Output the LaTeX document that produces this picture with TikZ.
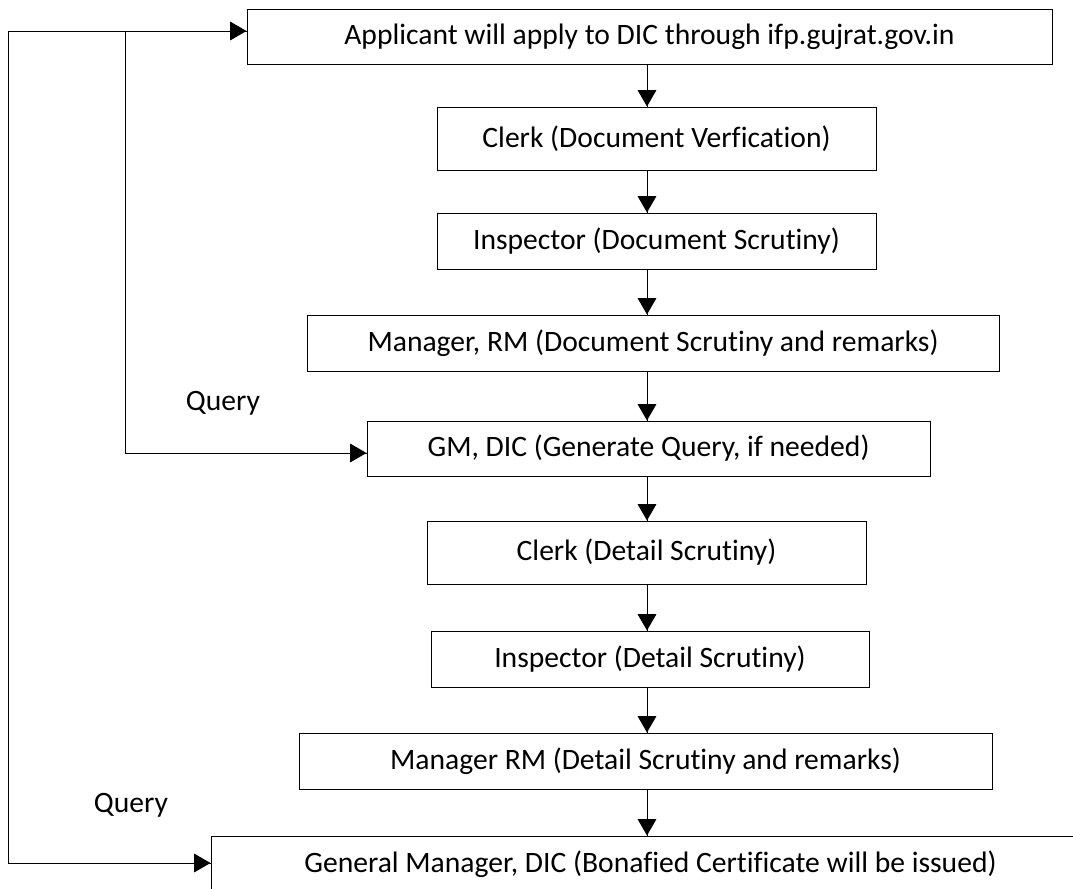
\documentclass[tikz,border=0pt]{standalone}
\usepackage{fontspec}
\setmainfont{Carlito}[Ligatures={NoCommon,NoContextual}]
\usepackage{tikz}
\usetikzlibrary{arrows}
\usetikzlibrary{decorations.markings}
\tikzset{flow/.style = {decoration={markings,
                                    mark=at position 1 with {\arrow[scale=1.45]{triangle 60}}},
                        postaction={decorate}}}
\tikzset{stepbox/.style = {draw, line width=0.5pt, inner sep=0pt, align=center,
                           font=\fontsize{14.8}{17}\selectfont}}

\begin{document}
\begin{tikzpicture}[x=0.5pt, y=-0.5pt, line width=0.5pt]
    \useasboundingbox (0, 0) rectangle (1073, 889);
    \clip (0, 0) rectangle (1073, 889);

    \node [stepbox, minimum width=402.5pt, minimum height=27.5pt] (apply) at (649.5, 36.5) {Applicant will apply to DIC through ifp.gujrat.gov.in};
    \node [stepbox, minimum width=219.5pt, minimum height=31.5pt] (clerkdoc) at (656.5, 138.5) {Clerk (Document Verfication)};
    \node [stepbox, minimum width=219.5pt, minimum height=28pt] (inspdoc) at (656.5, 241) {Inspector (Document Scrutiny)};
    \node [stepbox, minimum width=346pt, minimum height=28pt] (mgrdoc) at (653, 343) {Manager, RM (Document Scrutiny and remarks)};
    \node [stepbox, minimum width=281.5pt, minimum height=27.5pt] (gmquery) at (648.5, 448.5) {GM, DIC (Generate Query, if needed)};
    \node [stepbox, minimum width=219.5pt, minimum height=31.5pt] (clerkdet) at (646.5, 552.5) {Clerk (Detail Scrutiny)};
    \node [stepbox, minimum width=219pt, minimum height=28pt] (inspdet) at (650, 659) {Inspector (Detail Scrutiny)};
    \node [stepbox, minimum width=346.5pt, minimum height=28pt] (mgrdet) at (645.5, 761) {Manager RM (Detail Scrutiny and remarks)};
    \node [stepbox, minimum width=439.5pt, minimum height=28pt] (gmcert) at (650.5, 864) {General Manager, DIC (Bonafied Certificate will be issued)};

    \node [anchor=base, font=\fontsize{14.8}{17}\selectfont] (query1) at (223, 410) {Query};
    \node [anchor=base, font=\fontsize{14.8}{17}\selectfont] (query2) at (131, 812) {Query};

    \coordinate (col) at (647, 0);
    \draw [flow] (apply.south -| col) -- (clerkdoc.north -| col);
    \draw [flow] (clerkdoc.south -| col) -- (inspdoc.north -| col);
    \draw [flow] (inspdoc.south -| col) -- (mgrdoc.north -| col);
    \draw [flow] (mgrdoc.south -| col) -- (gmquery.north -| col);
    \draw [flow] (gmquery.south -| col) -- (clerkdet.north -| col);
    \draw [flow] (clerkdet.south -| col) -- (inspdet.north -| col);
    \draw [flow] (inspdet.south -| col) -- (mgrdet.north -| col);
    \draw [flow] (mgrdet.south -| col) -- (gmcert.north -| col);

    % query loops
    \coordinate (outer) at (8, 31);
    \coordinate (inner) at (125, 31);
    \coordinate (innerlow) at (125, 453);
    \coordinate (outerlow) at (8, 863);
    \draw [flow] (outer) -- (outer -| apply.west);
    \draw [flow] (inner) -- (innerlow) -- (innerlow -| gmquery.west);
    \draw [flow] (outer) -- (outerlow) -- (outerlow -| gmcert.west);
\end{tikzpicture}
\end{document}
